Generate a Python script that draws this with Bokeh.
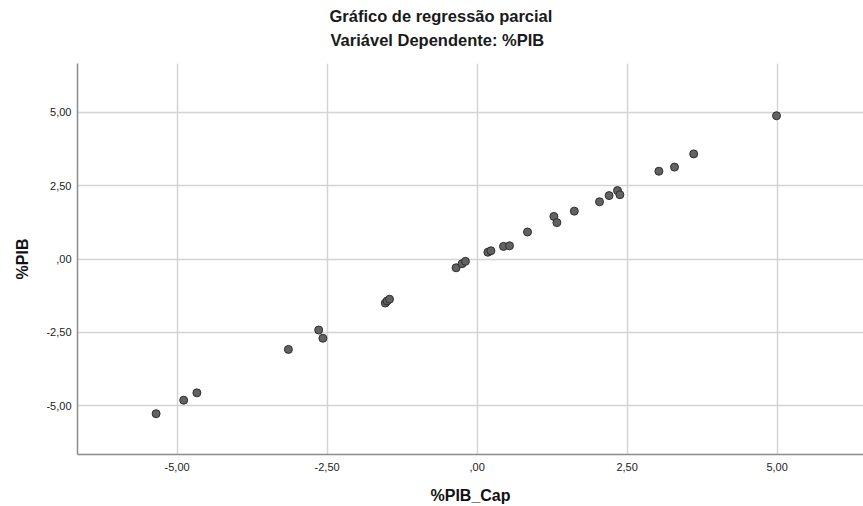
from bokeh.plotting import figure
from bokeh.models import Title, FixedTicker, Range1d
from bokeh.embed import file_html
from bokeh.resources import INLINE

# Data
pib_cap = [-5.35, -4.89, -4.67, -3.145, -2.64, -2.57, -1.53, -1.50, -1.46,
           -0.35, -0.25, -0.195, 0.18, 0.23, 0.44, 0.54, 0.84, 1.28, 1.33,
           1.62, 2.04, 2.20, 2.34, 2.38, 3.03, 3.29, 3.61, 4.99]
pib = [-5.27, -4.81, -4.56, -3.08, -2.42, -2.70, -1.50, -1.43, -1.37,
       -0.30, -0.16, -0.08, 0.23, 0.28, 0.43, 0.45, 0.92, 1.45, 1.24,
       1.63, 1.95, 2.16, 2.33, 2.19, 2.99, 3.13, 3.58, 4.88]

tick_values = [-5.0, -2.5, 0.0, 2.5, 5.0]
tick_labels = ["-5,00", "-2,50", ",00", "2,50", "5,00"]

title_1 = "Gráfico de regressão parcial"
title_2 = "Variável Dependente: %PIB"
x_label = "%PIB_Cap"
y_label = "%PIB"

FONT = "Liberation Sans"

p = figure(width=863, height=506, output_backend="svg", toolbar_location=None,
           x_range=Range1d(-6.66, 6.44), y_range=Range1d(-6.66, 6.66),
           min_border_left=77, min_border_right=0, min_border_top=63,
           min_border_bottom=52, title_location=None)

p.outline_line_color = None
p.background_fill_color = "white"
p.border_fill_color = "white"

# titles (added inner first)
t2 = Title(text=title_2, align="left", offset=253, text_font=FONT,
           text_font_size="16.5px", text_font_style="bold", text_color="#1a1a1a",
           standoff=30)
t1 = Title(text=title_1, align="left", offset=252, text_font=FONT,
           text_font_size="16.5px", text_font_style="bold", text_color="#1a1a1a",
           standoff=-22)
p.add_layout(t2, "above")
p.add_layout(t1, "above")

for ax in (p.xaxis[0], p.yaxis[0]):
    ax.ticker = FixedTicker(ticks=tick_values)
    ax.major_label_overrides = {v: l for v, l in zip(tick_values, tick_labels)}
    ax.major_tick_line_color = None
    ax.minor_tick_line_color = None
    ax.major_tick_out = 0
    ax.major_tick_in = 0
    ax.axis_line_color = "#8c8c8c"
    ax.axis_line_width = 1.5
    ax.major_label_text_font = FONT
    ax.major_label_text_font_size = "11px"
    ax.major_label_text_color = "#222222"
    ax.axis_label_text_font = FONT
    ax.axis_label_text_font_size = "16px"
    ax.axis_label_text_font_style = "bold"
    ax.axis_label_text_color = "#111111"

p.xaxis.axis_label = x_label
p.yaxis.axis_label = y_label
p.xaxis.major_label_standoff = 8
p.xaxis.axis_label_standoff = 13
p.yaxis.major_label_standoff = 6
p.yaxis.axis_label_standoff = 12

p.xgrid.ticker = FixedTicker(ticks=tick_values)
p.ygrid.ticker = FixedTicker(ticks=tick_values)
for g in (p.xgrid[0], p.ygrid[0]):
    g.grid_line_color = "#d4d4d4"
    g.grid_line_width = 1.5

p.scatter(pib_cap, pib, size=8, fill_color="#626262", line_color="#2e2e2e",
          line_width=1)

open("out.html", "w").write(file_html(p, INLINE))
